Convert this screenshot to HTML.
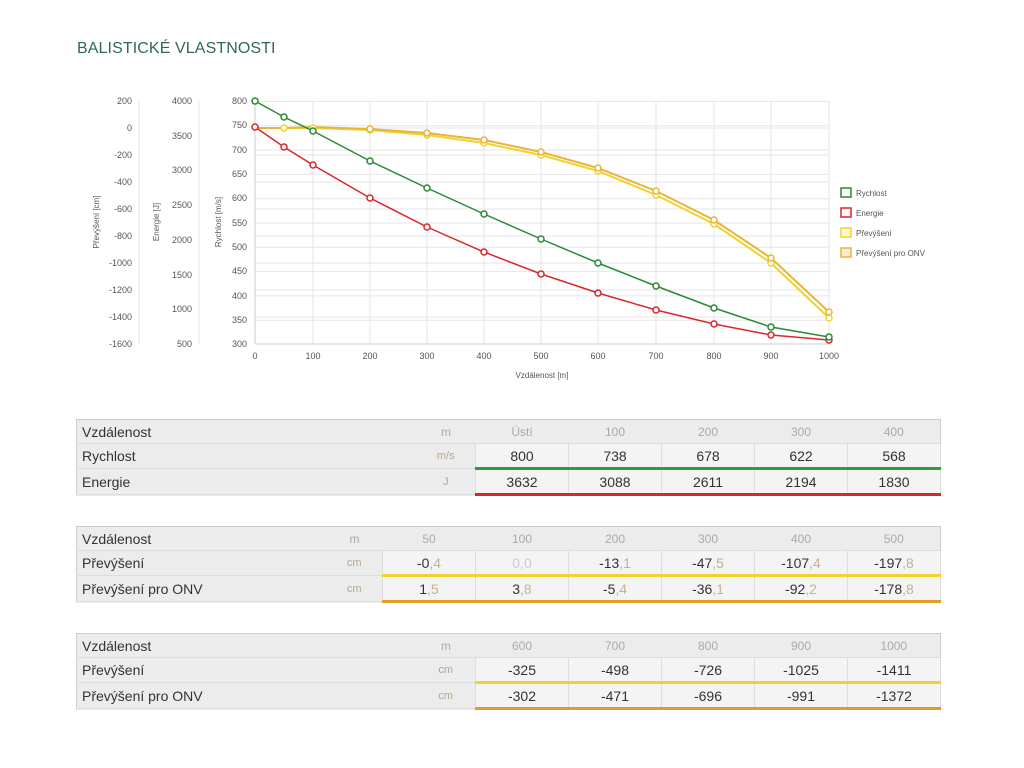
<!DOCTYPE html>
<html><head><meta charset="utf-8"><style>
body{margin:0;width:1024px;height:768px;background:#fff;position:relative;overflow:hidden;font-family:"Liberation Sans",sans-serif;}
.t{position:absolute;left:76px;width:864px;border:1px solid #ccc;background:#ececec;border-collapse:collapse;table-layout:fixed;font-size:14px;color:#333}
.t td{height:23px;padding:0;border:1px solid #ddd;border-top:none;border-bottom:1px solid #ddd;text-align:center;white-space:nowrap}
.t td.l{text-align:left;padding-left:5px;border-right:none;border-left:none}
.t td.u{font-size:11px;color:#b9a58a;border-left:none}
.t tr.h td{color:#aaa;font-size:12px;border-left:none;border-right:none}
.t tr.h td.l{color:#333;font-size:14px}
.g td.d{border-bottom:3px solid #2e9b3c;background:#f4f4f4}
.r td.d{border-bottom:3px solid #d9262a;background:#f4f4f4}
.y td.d{border-bottom:3px solid #f2d22e;background:#f4f4f4}
.o td.d{border-bottom:3px solid #e39c28;background:#f4f4f4}
.f{color:#c9b08e}
</style></head><body>
<div style="position:absolute;left:77px;top:40px;font-size:16px;color:#2f6b4a;letter-spacing:0.1px">BALISTICKÉ VLASTNOSTI</div>
<svg width="1024" height="400" style="position:absolute;left:0;top:0" font-family="Liberation Sans, sans-serif" font-size="9" fill="#555">
<g stroke="#e6e6e6" stroke-width="1">
<line x1="255" y1="101.5" x2="829" y2="101.5"/><line x1="255" y1="125.8" x2="829" y2="125.8"/><line x1="255" y1="150" x2="829" y2="150"/><line x1="255" y1="174.4" x2="829" y2="174.4"/><line x1="255" y1="198.7" x2="829" y2="198.7"/><line x1="255" y1="223" x2="829" y2="223"/><line x1="255" y1="247.3" x2="829" y2="247.3"/><line x1="255" y1="271.6" x2="829" y2="271.6"/><line x1="255" y1="295.9" x2="829" y2="295.9"/><line x1="255" y1="320.2" x2="829" y2="320.2"/>
<line x1="255" y1="128" x2="829" y2="128"/><line x1="255" y1="155" x2="829" y2="155"/><line x1="255" y1="182" x2="829" y2="182"/><line x1="255" y1="209" x2="829" y2="209"/><line x1="255" y1="236" x2="829" y2="236"/><line x1="255" y1="263" x2="829" y2="263"/><line x1="255" y1="290" x2="829" y2="290"/><line x1="255" y1="317" x2="829" y2="317"/>
<line x1="313" y1="101" x2="313" y2="344"/><line x1="370" y1="101" x2="370" y2="344"/><line x1="427" y1="101" x2="427" y2="344"/><line x1="484" y1="101" x2="484" y2="344"/><line x1="541" y1="101" x2="541" y2="344"/><line x1="598" y1="101" x2="598" y2="344"/><line x1="656" y1="101" x2="656" y2="344"/><line x1="714" y1="101" x2="714" y2="344"/><line x1="771" y1="101" x2="771" y2="344"/><line x1="829" y1="101" x2="829" y2="344"/>
<line x1="139" y1="101" x2="139" y2="344"/><line x1="199" y1="101" x2="199" y2="344"/>
</g>
<line x1="255" y1="101" x2="255" y2="344" stroke="#ccc"/><line x1="255" y1="344" x2="829" y2="344" stroke="#ccc"/>
<g text-anchor="end">
<text x="132" y="104">200</text><text x="132" y="131">0</text><text x="132" y="158">-200</text><text x="132" y="185">-400</text><text x="132" y="212">-600</text><text x="132" y="239">-800</text><text x="132" y="266">-1000</text><text x="132" y="293">-1200</text><text x="132" y="320">-1400</text><text x="132" y="347">-1600</text>
<text x="192" y="104">4000</text><text x="192" y="139">3500</text><text x="192" y="173">3000</text><text x="192" y="208">2500</text><text x="192" y="243">2000</text><text x="192" y="278">1500</text><text x="192" y="312">1000</text><text x="192" y="347">500</text>
<text x="247" y="104">800</text><text x="247" y="128">750</text><text x="247" y="153">700</text><text x="247" y="177">650</text><text x="247" y="201">600</text><text x="247" y="226">550</text><text x="247" y="250">500</text><text x="247" y="274">450</text><text x="247" y="299">400</text><text x="247" y="323">350</text><text x="247" y="347">300</text>
</g>
<g text-anchor="middle">
<text x="255" y="359">0</text><text x="313" y="359">100</text><text x="370" y="359">200</text><text x="427" y="359">300</text><text x="484" y="359">400</text><text x="541" y="359">500</text><text x="598" y="359">600</text><text x="656" y="359">700</text><text x="714" y="359">800</text><text x="771" y="359">900</text><text x="829" y="359">1000</text>
<text x="542" y="378" font-size="8">Vzdálenost [m]</text>
<text transform="translate(99,222) rotate(-90)" font-size="8">Převýšení [cm]</text>
<text transform="translate(159,222) rotate(-90)" font-size="8">Energie [J]</text>
<text transform="translate(221,222) rotate(-90)" font-size="8">Rychlost [m/s]</text>
</g>
<g fill="none" stroke-width="2">
<polyline stroke="#f2d22e" points="255,128 284,128 313,128 370,130 427,135 484,143 541,155 598,171 656,195 714,224 771,263 829,318"/>
<polyline stroke="#e8b43a" points="255,128 284,128 313,127 370,129 427,133 484,140 541,152 598,168 656,191 714,220 771,258 829,312"/>
<polyline stroke="#d9262a" stroke-width="1.5" points="255,127 284,147 313,165 370,198 427,227 484,252 541,274 598,293 656,310 714,324 771,335 829,340"/>
<polyline stroke="#2a8a35" stroke-width="1.5" points="255,101 284,117 313,131 370,161 427,188 484,214 541,239 598,263 656,286 714,308 771,327 829,337"/>
</g>
<g fill="#fff" stroke-width="1.5">
<g stroke="#f2d22e"><circle cx="284" cy="128" r="3"/><circle cx="313" cy="128" r="3"/><circle cx="370" cy="130" r="3"/><circle cx="427" cy="135" r="3"/><circle cx="484" cy="143" r="3"/><circle cx="541" cy="155" r="3"/><circle cx="598" cy="171" r="3"/><circle cx="656" cy="195" r="3"/><circle cx="714" cy="224" r="3"/><circle cx="771" cy="263" r="3"/><circle cx="829" cy="318" r="3"/></g>
<g stroke="#e8b43a"><circle cx="370" cy="129" r="3"/><circle cx="427" cy="133" r="3"/><circle cx="484" cy="140" r="3"/><circle cx="541" cy="152" r="3"/><circle cx="598" cy="168" r="3"/><circle cx="656" cy="191" r="3"/><circle cx="714" cy="220" r="3"/><circle cx="771" cy="258" r="3"/><circle cx="829" cy="312" r="3"/></g>
<g stroke="#d9262a"><circle cx="255" cy="127" r="3"/><circle cx="284" cy="147" r="3"/><circle cx="313" cy="165" r="3"/><circle cx="370" cy="198" r="3"/><circle cx="427" cy="227" r="3"/><circle cx="484" cy="252" r="3"/><circle cx="541" cy="274" r="3"/><circle cx="598" cy="293" r="3"/><circle cx="656" cy="310" r="3"/><circle cx="714" cy="324" r="3"/><circle cx="771" cy="335" r="3"/><circle cx="829" cy="340" r="3"/></g>
<g stroke="#2a8a35"><circle cx="255" cy="101" r="3"/><circle cx="284" cy="117" r="3"/><circle cx="313" cy="131" r="3"/><circle cx="370" cy="161" r="3"/><circle cx="427" cy="188" r="3"/><circle cx="484" cy="214" r="3"/><circle cx="541" cy="239" r="3"/><circle cx="598" cy="263" r="3"/><circle cx="656" cy="286" r="3"/><circle cx="714" cy="308" r="3"/><circle cx="771" cy="327" r="3"/><circle cx="829" cy="337" r="3"/></g>
</g>
<g stroke-width="1.5" font-size="8">
<rect x="841" y="188" width="10" height="9" fill="#fff" stroke="#2a8a35"/><text x="856" y="196" stroke="none">Rychlost</text>
<rect x="841" y="208" width="10" height="9" fill="#fff" stroke="#d9262a"/><text x="856" y="216" stroke="none">Energie</text>
<rect x="841" y="228" width="10" height="9" fill="#fff8d0" stroke="#f2d22e"/><text x="856" y="236" stroke="none">Převýšení</text>
<rect x="841" y="248" width="10" height="9" fill="#fbeccc" stroke="#e8b43a"/><text x="856" y="256" stroke="none">Převýšení pro ONV</text>
</g>
</svg>

<table class="t" style="top:419px">
<colgroup><col style="width:340px"><col style="width:59px"><col span="5" style="width:93px"></colgroup>
<tr class="h"><td class="l">Vzdálenost</td><td class="u">m</td><td>Ústí</td><td>100</td><td>200</td><td>300</td><td>400</td></tr>
<tr class="g"><td class="l">Rychlost</td><td class="u">m/s</td><td class="d">800</td><td class="d">738</td><td class="d">678</td><td class="d">622</td><td class="d">568</td></tr>
<tr class="r"><td class="l">Energie</td><td class="u">J</td><td class="d">3632</td><td class="d">3088</td><td class="d">2611</td><td class="d">2194</td><td class="d">1830</td></tr>
</table>

<table class="t" style="top:526px">
<colgroup><col style="width:250px"><col style="width:56px"><col span="6" style="width:93px"></colgroup>
<tr class="h"><td class="l">Vzdálenost</td><td class="u">m</td><td>50</td><td>100</td><td>200</td><td>300</td><td>400</td><td>500</td></tr>
<tr class="y"><td class="l">Převýšení</td><td class="u">cm</td><td class="d">-0<span class="f">,4</span></td><td class="d" style="color:#ccc">0,0</td><td class="d">-13<span class="f">,1</span></td><td class="d">-47<span class="f">,5</span></td><td class="d">-107<span class="f">,4</span></td><td class="d">-197<span class="f">,8</span></td></tr>
<tr class="o"><td class="l">Převýšení pro ONV</td><td class="u">cm</td><td class="d">1<span class="f">,5</span></td><td class="d">3<span class="f">,8</span></td><td class="d">-5<span class="f">,4</span></td><td class="d">-36<span class="f">,1</span></td><td class="d">-92<span class="f">,2</span></td><td class="d">-178<span class="f">,8</span></td></tr>
</table>

<table class="t" style="top:633px">
<colgroup><col style="width:340px"><col style="width:59px"><col span="5" style="width:93px"></colgroup>
<tr class="h"><td class="l">Vzdálenost</td><td class="u">m</td><td>600</td><td>700</td><td>800</td><td>900</td><td>1000</td></tr>
<tr class="y"><td class="l">Převýšení</td><td class="u">cm</td><td class="d">-325</td><td class="d">-498</td><td class="d">-726</td><td class="d">-1025</td><td class="d">-1411</td></tr>
<tr class="o"><td class="l">Převýšení pro ONV</td><td class="u">cm</td><td class="d">-302</td><td class="d">-471</td><td class="d">-696</td><td class="d">-991</td><td class="d">-1372</td></tr>
</table>
</body></html>
